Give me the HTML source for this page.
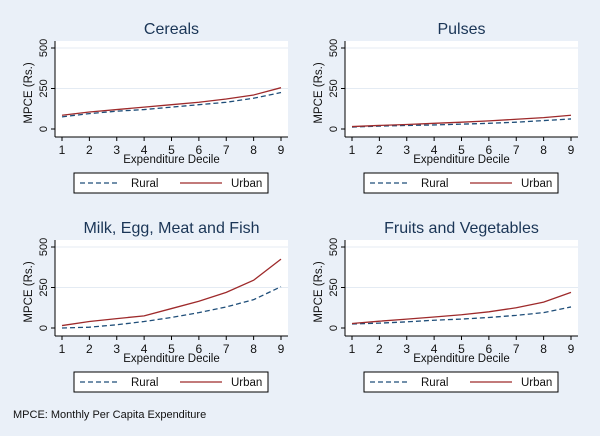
<!DOCTYPE html>
<html><head><meta charset="utf-8"><style>
body{margin:0;width:600px;height:436px;background:#eaf0f8;overflow:hidden;font-family:"Liberation Sans",sans-serif}
svg{display:block}
</style></head><body>
<svg id="c" width="600" height="436">
<text x="13" y="418" font-size="11" fill="#111">MPCE: Monthly Per Capita Expenditure</text>
</svg>
<script>
const deciles=[1,2,3,4,5,6,7,8,9];
const yTicks=[0,250,500];
const titles=["Cereals","Pulses","Milk, Egg, Meat and Fish","Fruits and Vegetables"];
const cerealsRural=[75,95,110,120,135,150,165,190,225];
const cerealsUrban=[85,105,120,135,150,165,185,210,255];
const pulsesRural=[12,18,22,25,30,35,42,52,62];
const pulsesUrban=[15,22,28,35,42,50,60,70,85];
const milkRural=[0,5,20,40,65,95,130,175,255];
const milkUrban=[15,40,58,75,120,165,220,295,425];
const fruitRural=[25,30,38,48,55,65,78,95,130];
const fruitUrban=[28,42,55,68,82,100,125,160,220];
const ruralSeries=[cerealsRural,pulsesRural,milkRural,fruitRural];
const urbanSeries=[cerealsUrban,pulsesUrban,milkUrban,fruitUrban];
const NS="http://www.w3.org/2000/svg";
const svg=document.getElementById('c');
function mk(tag,attrs,parent,text){const e=document.createElementNS(NS,tag);for(const k in attrs)e.setAttribute(k,attrs[k]);if(text!==undefined)e.textContent=text;(parent||svg).appendChild(e);return e;}
const offs=[[0,0],[290,0],[0,199],[290,199]];
for(let p=0;p<4;p++){
  const ox=offs[p][0],oy=offs[p][1];
  const g=mk('g',{});
  
  
  const L=55+ox,R=288+ox,T=41+oy,B=137+oy;
  const xs=v=>62+ox+(v-1)*(281-62)/8;
  const ys=v=>129+oy-v*(81/500);
  const bg=mk('rect',{x:L,y:T,width:R-L,height:B-T,fill:'#fff'},g);
  
  
  const t=mk('text',{x:(L+R)/2,y:T-7,'text-anchor':'middle','font-size':16,fill:'#1a3556'},g,titles[p]);
  
  
  yTicks.forEach(v=>{
    if(v>0){const gl=mk('line',{x1:L,x2:R,y1:ys(v),y2:ys(v),stroke:'#e4ebf3','stroke-width':1},g);
    
    }
    mk('line',{x1:L-4,x2:L,y1:ys(v),y2:ys(v),stroke:'#000'},g);
    const tl=mk('text',{transform:`translate(${L-8},${ys(v)}) rotate(-90)`,'text-anchor':'middle','font-size':11,fill:'#111'},g,v);
    
    
  });
  mk('line',{x1:L,x2:L,y1:T,y2:B,stroke:'#000'},g);
  mk('line',{x1:L,x2:R,y1:B,y2:B,stroke:'#000'},g);
  deciles.forEach(d=>{
    mk('line',{x1:xs(d),x2:xs(d),y1:B,y2:B+4,stroke:'#000'},g);
    const xl=mk('text',{x:xs(d),y:B+17,'text-anchor':'middle','font-size':12,fill:'#111'},g,d);
    
    
  });
  const yt=mk('text',{transform:`translate(${L-23},${(T+B)/2+4}) rotate(-90)`,'text-anchor':'middle','font-size':11.5,fill:'#111'},g,'MPCE (Rs.)');
  
  
  const xt=mk('text',{x:(L+R)/2,y:B+26,'text-anchor':'middle','font-size':11.5,fill:'#111'},g,'Expenditure Decile');
  
  
  const pr=mk('polyline',{points:deciles.map((d,i)=>xs(d)+','+ys(ruralSeries[p][i])).join(' '),fill:'none',stroke:'#1f4e79','stroke-width':1.3,'stroke-dasharray':'5,3'},g);
  
  
  const pu=mk('polyline',{points:deciles.map((d,i)=>xs(d)+','+ys(urbanSeries[p][i])).join(' '),fill:'none',stroke:'#9e2a2b','stroke-width':1.3},g);
  
  
  const lx=74+ox,ly=173+oy;
  const lg=mk('g',{},g);
  
  
  mk('rect',{x:lx,y:ly,width:194,height:20,fill:'#fff',stroke:'#000','stroke-width':1},lg);
  mk('line',{x1:lx+6,x2:lx+46,y1:ly+10,y2:ly+10,stroke:'#1f4e79','stroke-width':1.3,'stroke-dasharray':'5,3'},lg);
  mk('text',{x:lx+57,y:ly+14,'font-size':11.5,fill:'#111'},lg,'Rural');
  mk('line',{x1:lx+106,x2:lx+148,y1:ly+10,y2:ly+10,stroke:'#9e2a2b','stroke-width':1.3},lg);
  mk('text',{x:lx+157,y:ly+14,'font-size':11.5,fill:'#111'},lg,'Urban');
}
</script>
</body></html>
